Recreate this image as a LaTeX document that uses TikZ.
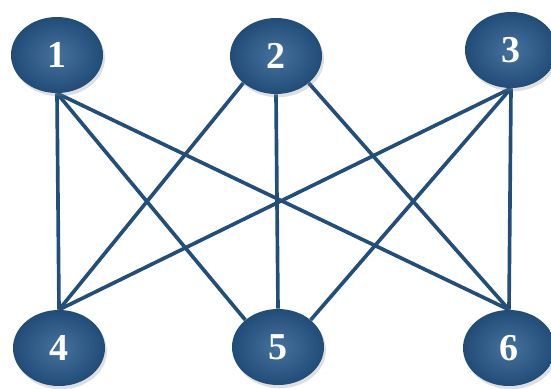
\documentclass[tikz,border=0pt]{standalone}
\usepackage{fontspec}
\setmainfont{Liberation Serif}
\usetikzlibrary{backgrounds, shadows, shapes.geometric}
\definecolor{nodeblue}{RGB}{48,98,146}
\definecolor{nodedark}{RGB}{34,76,120}
\definecolor{edgeblue}{RGB}{33,78,122}

\begin{document}
\begin{tikzpicture}[x=0.025cm, y=-0.025cm,
  vert/.style={ellipse, minimum width=2.3cm, minimum height=1.9cm,
               inner color=nodeblue!90!white, outer color=nodedark,
               text=white, font=\fontsize{27}{27}\selectfont\bfseries,
               drop shadow={shadow xshift=0.3ex, shadow yshift=-0.5ex, opacity=0.25}},
  link/.style={draw=edgeblue, line width=2.6pt}
]
\useasboundingbox (0,0) rectangle (551,388);

\node[vert] (v1) at (57, 55)   {1};
\node[vert] (v2) at (276, 56)  {2};
\node[vert] (v3) at (511, 50)  {3};

\node[vert] (v4) at (59, 348)  {4};
\node[vert] (v5) at (278, 347) {5};
\node[vert] (v6) at (509, 348) {6};

\begin{scope}[on background layer]
\draw[link] (v1.south) -- (v4.north);
\draw[link] (v1.south) -- (v5.north west);
\draw[link] (v1.south) -- (v6.north);
\draw[link] (v2.south west) -- (v4.north);
\draw[link] (v2.south) -- (v5.north);
\draw[link] (v2.south east) -- (v6.north);
\draw[link] (v3.south) -- (v4.north);
\draw[link] (v3.south) -- (v5.north east);
\draw[link] (v3.south) -- (v6.north);
\end{scope}
\end{tikzpicture}
\end{document}
